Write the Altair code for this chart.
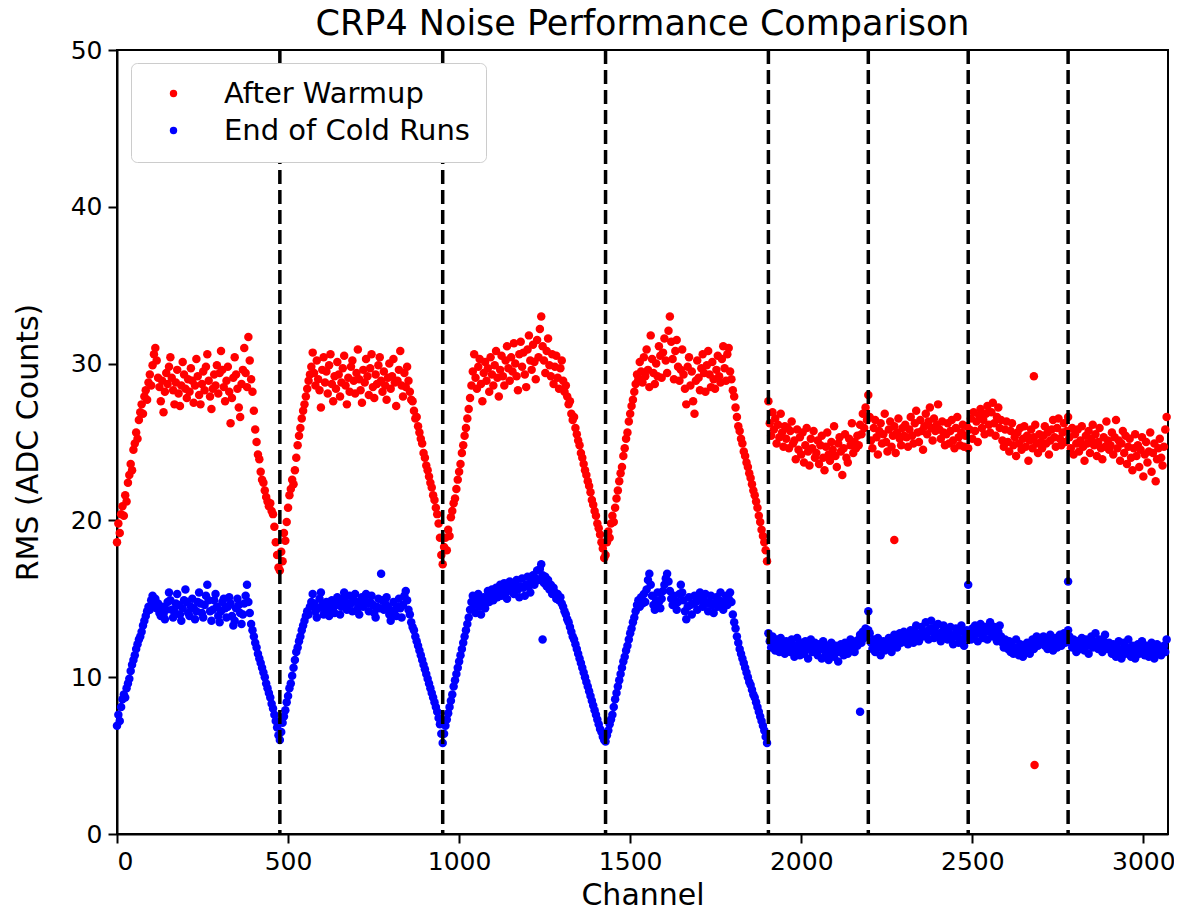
import altair as alt
import pandas as pd

# ---- channel layout -------------------------------------------------------
STEP = 4
IND_STARTS = [0, 476, 952, 1428]
COLL_START = 1904
BOUNDARIES = [476, 952, 1428, 1904, 2196, 2488, 2780]

# ---- After Warmup (red), read every 4 channels ----------------------------
warm_ind1 = [18.6, 19.8, 19.2, 20.4, 20.9, 20.3, 21.6, 21.2, 22.4, 22.9, 23.6, 23.2, 24.5, 24.9, 25.6, 25.2,
             26.4, 26.9, 27.4, 26.8, 27.9, 28.3, 27.7, 28.8, 29.3, 28.6, 29.9, 30.6, 31.0, 30.2, 29.1, 28.5,
             27.6, 28.9, 26.9, 28.2, 29.4, 28.7, 29.8, 30.4, 29.1, 28.3, 27.4, 28.8, 29.6, 28.1, 27.3, 28.6,
             30.1, 29.3, 28.4, 27.8, 29.0, 28.2, 29.7, 28.9, 27.5, 28.6, 30.3, 29.2, 28.0, 27.4, 28.7, 29.5,
             28.3, 29.8, 30.6, 28.9, 27.9, 27.1, 28.4, 29.3, 28.6, 29.9, 28.1, 29.4, 30.8, 29.6, 28.5, 27.6,
             28.9, 29.8, 28.2, 26.2, 27.8, 29.1, 30.4, 29.3, 28.4, 27.2, 26.6, 28.7, 29.6, 31.0, 29.4, 28.5,
             31.7, 30.2, 29.0, 28.2, 27.0, 25.8, 25.0, 24.2, 23.9, 23.1, 22.6, 22.4, 21.9, 21.5, 21.2, 20.9,
             21.1, 20.6, 20.4, 19.6, 18.6, 17.8, 17.0]
warm_ind2 = [16.8, 18.0, 17.4, 19.2, 18.7, 19.9, 20.8, 21.6, 22.0, 22.6, 22.3, 23.2, 24.0, 24.8, 25.4, 25.9,
             26.5, 27.0, 27.4, 27.9, 28.4, 28.9, 29.3, 29.8, 30.7, 29.4, 28.6, 30.2, 29.0, 28.3, 27.2, 29.6,
             30.4, 28.8, 29.5, 28.1, 29.9, 30.6, 28.7, 27.6, 29.2, 28.4, 30.1, 29.3, 27.9, 28.8, 29.7, 30.5,
             28.6, 27.4, 29.1, 28.2, 29.8, 30.2, 28.9, 28.1, 29.4, 30.9, 29.0, 28.3, 27.5, 29.6, 28.8, 30.3,
             29.2, 28.0, 29.7, 30.6, 28.5, 27.8, 29.3, 28.7, 29.9, 30.4, 28.9, 28.2, 29.5, 28.6, 27.7, 29.1,
             30.0, 28.4, 29.2, 30.3, 28.8, 27.3, 28.9, 29.6, 30.8, 28.6, 27.9, 29.4, 28.5, 29.8, 28.9, 28.2,
             27.7, 27.6, 27.0, 26.5, 26.6, 26.0, 25.6, 25.2, 24.9, 24.3, 24.0, 23.5, 23.2, 22.8, 22.4, 22.1,
             21.6, 21.3, 20.8, 20.4, 19.8, 18.9, 17.8]
warm_ind3 = [17.2, 18.3, 18.9, 18.1, 19.4, 19.0, 20.2, 20.6, 21.1, 21.4, 22.0, 22.6, 23.1, 23.6, 24.3, 24.8,
             25.4, 25.9, 26.5, 27.1, 27.8, 28.6, 29.5, 30.6, 29.1, 28.4, 29.8, 30.3, 28.7, 27.6, 29.4, 30.1,
             28.9, 29.7, 28.2, 30.4, 29.3, 28.6, 29.9, 30.8, 29.1, 27.9, 29.6, 30.5, 29.2, 28.6, 30.2, 31.1,
             29.7, 28.9, 30.4, 29.5, 31.3, 30.0, 29.2, 28.3, 30.6, 31.4, 29.8, 30.7, 29.3, 28.5, 30.9, 31.8,
             30.2, 29.6, 31.2, 30.1, 29.0, 31.5, 30.4, 32.2, 33.0, 31.1, 30.2, 29.4, 30.8, 31.6, 29.9, 29.2,
             30.6, 28.7, 29.8, 30.5, 29.1, 28.4, 29.7, 30.2, 28.9, 28.2, 28.6, 27.9, 27.4, 27.6, 26.8, 26.4,
             26.6, 25.9, 25.5, 25.1, 24.8, 24.3, 24.0, 23.6, 23.2, 22.9, 22.5, 22.2, 21.8, 21.3, 21.0, 20.6,
             20.3, 19.8, 19.5, 19.1, 18.6, 18.2, 17.6]
warm_ind4 = [17.8, 18.6, 19.3, 18.9, 19.8, 20.3, 19.9, 20.8, 21.4, 21.9, 22.5, 23.0, 23.4, 24.1, 24.6, 25.2,
             25.6, 26.3, 26.8, 27.3, 27.7, 28.2, 28.7, 29.3, 29.0, 30.1, 29.5, 28.8, 30.4, 29.2, 30.9, 29.6,
             28.5, 31.8, 30.3, 29.4, 28.7, 30.0, 29.2, 31.1, 30.5, 29.1, 30.7, 31.6, 30.2, 29.4, 32.1, 33.0,
             31.4, 30.3, 29.0, 30.8, 31.5, 29.8, 28.9, 29.6, 30.9, 29.3, 28.4, 27.4, 29.8, 30.4, 28.6, 29.5,
             27.6, 26.8, 28.9, 30.2, 29.1, 28.3, 29.7, 30.6, 29.4, 28.2, 29.9, 30.8, 29.3, 28.5, 30.1, 29.0,
             28.4, 29.6, 30.5, 29.2, 28.8, 30.3, 31.1, 29.7, 28.9, 30.6, 31.0, 29.5, 29.0, 28.3, 27.9, 27.2,
             26.6, 26.0, 25.7, 25.2, 24.9, 24.4, 24.1, 23.7, 23.4, 23.0, 22.7, 22.3, 21.9, 21.6, 21.2, 20.8,
             20.3, 19.9, 19.4, 19.0, 18.6, 18.1, 17.4]
warm_coll = [27.6, 26.2, 25.4, 26.9, 25.8, 26.5, 24.9, 26.1, 25.3, 26.8, 25.6, 24.7, 26.0, 25.2, 25.9,
             24.6, 25.7, 26.3, 24.9, 25.1, 23.9, 25.8, 24.5, 25.3, 24.2, 25.6, 23.7, 24.8, 25.9, 24.4, 23.5,
             25.2, 24.6, 25.7, 24.0,
             24.3, 25.1, 23.6, 24.8, 25.4, 24.0, 23.2, 24.7, 25.6, 24.2, 23.8, 25.0, 24.5, 26.0, 24.1, 23.4,
             24.9, 25.3, 24.4, 22.9, 24.6, 25.5, 24.0, 23.7, 25.2, 24.8, 26.2, 24.3, 25.0, 24.6,
             25.4, 24.8, 26.1, 25.5, 26.8, 25.9, 27.2, 26.4, 28.0,
             26.6, 25.1, 24.6, 25.9, 26.4, 25.3, 24.2, 25.7, 26.2, 24.9, 25.5, 26.8, 25.0, 24.4, 25.8, 26.3,
             24.7, 25.4, 26.0, 24.3, 25.6, 26.5, 25.2, 24.8, 25.9, 25.4,
             26.1, 25.3, 24.7, 25.8, 26.6, 25.4, 24.9, 26.2, 27.0, 25.6, 25.0, 26.4, 25.7, 24.5, 26.0, 26.8,
             25.5, 26.3, 27.2, 25.9, 25.1, 26.5, 25.7, 26.1, 27.4, 25.8, 25.2, 26.3, 25.6, 24.8,
             25.5, 26.2, 24.9, 25.7, 26.4, 25.1, 24.6, 25.9, 26.6, 25.3, 24.8, 25.6, 26.1, 24.7, 25.4, 26.0,
             24.6,
             25.8, 26.5, 25.2, 26.9, 25.7, 26.3, 25.0, 26.7, 27.1, 25.9, 26.4, 25.5, 26.8, 27.3, 26.1, 25.6,
             26.9, 27.5, 26.2, 25.4, 26.6, 27.2, 25.9, 26.4, 25.1, 24.7, 25.8, 26.3,
             25.0, 24.4, 25.7, 26.2, 24.8, 25.3, 24.1, 25.6, 24.9, 25.9, 24.5, 25.2, 26.0, 24.7, 25.4, 23.8,
             25.1, 25.8, 24.6, 25.3, 26.1, 24.9, 24.3, 25.5, 25.0,
             24.6, 25.4, 26.0, 24.9, 25.6, 24.2, 25.1, 25.8, 26.4, 25.3, 24.7, 25.9, 26.5, 25.2, 24.8, 25.6,
             26.2, 25.0, 25.7, 26.6,
             25.3, 24.6, 25.9, 24.2, 25.5, 24.9, 25.8, 24.4, 25.1, 26.0, 24.7, 23.8, 25.4, 24.9, 25.7, 24.3,
             25.2, 26.1, 24.8, 25.5, 24.1, 25.0, 25.9, 24.6, 23.9, 25.3, 24.7, 26.3, 25.1, 24.5,
             24.8, 25.6, 24.2, 25.3, 26.4, 24.6, 25.1, 23.8, 24.9, 25.7, 24.3, 25.4, 23.6, 24.7, 25.2, 24.0,
             23.2, 24.6, 25.5, 24.1, 24.8, 23.4, 24.5, 25.3, 22.8, 24.2, 25.0, 23.7, 24.4, 25.6, 23.1, 24.3,
             24.9, 22.5, 23.9, 24.6, 25.2, 24.0, 23.5, 24.7, 25.8, 26.6]
warm_extra_ch = [2272, 2680, 2682]
warm_extra_val = [18.75, 29.2, 4.4]

# ---- End of Cold Runs (blue), read every 4 channels -----------------------
cold_ind1 = [6.9, 7.6, 7.2, 8.1, 8.6, 8.9, 8.7, 9.3, 9.6, 9.9, 10.4, 10.8, 11.1, 11.4, 11.8, 12.1,
             12.4, 12.6, 12.9, 13.3, 13.6, 13.9, 14.2, 14.5, 14.3, 14.9, 15.2, 14.6, 15.0, 14.4, 14.7, 14.1,
             13.9, 14.5, 14.0, 13.7, 14.3, 14.8, 15.4, 14.9, 14.3, 13.8, 14.2, 14.7, 15.3, 14.6, 14.0, 13.6,
             14.4, 14.9, 15.6, 14.8, 14.1, 13.9, 14.5, 15.0, 14.4, 13.7, 14.2, 14.8, 15.4, 14.7, 14.1, 13.8,
             14.6, 15.2, 15.9, 14.9, 14.2, 13.6, 14.3, 14.9, 15.3, 14.5, 13.9, 13.5, 14.2, 14.8, 15.0, 14.4,
             13.8, 14.5, 15.1, 14.7, 13.9, 13.3, 13.6, 14.4, 15.0, 14.6, 14.1, 13.4, 14.0, 14.7, 15.2, 15.9,
             14.8, 14.1, 13.4, 13.0, 12.6, 12.2, 11.9, 11.5, 11.2, 10.9, 10.6, 10.3, 10.0, 9.6, 9.3, 9.0,
             8.7, 8.3, 8.0, 7.6, 7.2, 6.8, 6.3]
cold_ind2 = [6.0, 6.5, 7.1, 7.5, 7.9, 8.4, 8.8, 9.3, 9.6, 10.1, 10.6, 11.1, 11.6, 11.9, 12.3, 12.6,
             13.0, 13.3, 13.6, 13.9, 14.2, 14.0, 14.5, 14.8, 15.3, 14.7, 14.2, 13.8, 14.4, 15.0, 15.4, 14.6,
             14.0, 14.3, 14.8, 14.2, 13.9, 14.5, 14.9, 14.4, 14.1, 14.7, 15.1, 14.6, 14.0, 14.5, 15.0, 15.4,
             14.8, 14.3, 14.6, 15.2, 14.7, 14.2, 14.9, 15.3, 14.8, 14.4, 14.0, 14.6, 15.1, 14.5, 14.9, 15.3,
             14.7, 14.2, 14.8, 15.2, 14.6, 14.1, 13.8, 14.5, 15.0, 14.4, 16.6, 14.9, 14.3, 14.7, 15.1, 14.5,
             14.0, 13.6, 14.2, 14.8, 14.3, 13.9, 14.5, 15.0, 14.4, 13.8, 14.6, 15.2, 15.5, 14.9, 14.3, 14.0,
             13.5, 13.2, 13.0, 12.6, 12.3, 12.0, 11.7, 11.4, 11.1, 10.8, 10.5, 10.2, 9.9, 9.6, 9.3, 9.0,
             8.7, 8.4, 8.1, 7.8, 7.4, 7.0, 6.4]
cold_ind3 = [5.8, 6.4, 6.9, 7.3, 7.7, 8.1, 8.5, 8.9, 9.4, 9.8, 10.2, 10.6, 11.0, 11.4, 11.8, 12.2,
             12.6, 13.0, 13.4, 13.8, 14.3, 14.8, 15.2, 14.6, 14.1, 14.9, 15.3, 14.5, 14.0, 14.7, 15.1, 14.4,
             15.0, 15.5, 14.8, 15.2, 15.6, 14.9, 15.3, 15.7, 15.1, 15.5, 15.9, 15.2, 15.6, 16.0, 15.4, 15.0,
             15.7, 16.1, 15.5, 15.9, 15.3, 15.8, 16.2, 15.6, 15.1, 15.8, 16.3, 15.7, 15.2, 15.9, 16.4, 15.8,
             15.4, 16.1, 16.5, 15.9, 16.3, 16.8, 16.2, 16.9, 17.2, 16.5, 16.0, 16.4, 15.8, 16.2, 15.6, 15.9,
             15.3, 15.7, 15.4, 15.0, 15.3, 14.9, 15.1, 14.7, 14.5, 14.2, 14.0, 13.7, 13.5, 13.2, 12.9, 12.6,
             12.4, 12.1, 11.8, 11.5, 11.2, 10.9, 10.6, 10.3, 10.0, 9.7, 9.4, 9.1, 8.8, 8.5, 8.2, 7.9,
             7.6, 7.3, 7.0, 6.7, 6.5, 6.2, 6.0]
cold_ind4 = [5.9, 6.3, 6.6, 7.0, 7.3, 7.6, 8.1, 8.6, 9.0, 9.4, 9.8, 10.2, 10.6, 11.0, 11.3, 11.7,
             12.0, 12.4, 12.8, 13.1, 13.5, 13.8, 14.2, 14.6, 14.9, 14.5, 15.1, 14.7, 15.3, 14.8, 15.6, 16.2,
             16.6, 15.9, 15.2, 14.6, 14.3, 14.9, 15.4, 14.8, 14.4, 15.0, 15.5, 15.9, 16.3, 16.6, 16.1, 15.5,
             15.0, 14.6, 15.2, 14.7, 14.3, 14.8, 15.3, 15.9, 15.4, 14.9, 14.2, 13.7, 14.5, 15.1, 14.6, 14.0,
             14.7, 15.2, 14.8, 14.3, 14.9, 15.4, 15.0, 14.5, 14.9, 15.3, 14.7, 14.2, 14.8, 15.2, 14.6, 14.1,
             14.7, 15.1, 14.5, 14.9, 15.4, 14.8, 14.3, 14.7, 15.2, 14.6, 15.0, 15.4, 14.8, 14.0, 13.5, 13.1,
             12.6, 12.2, 11.8, 11.5, 11.2, 10.9, 10.6, 10.3, 10.0, 9.7, 9.5, 9.2, 8.9, 8.7, 8.4, 8.1,
             7.8, 7.5, 7.2, 6.9, 6.6, 6.2, 5.8]
cold_coll = [12.8, 12.3, 11.9, 12.6, 12.1, 11.7, 12.4, 12.0, 11.6, 12.5, 11.8, 12.2, 11.5, 12.3, 11.9,
             12.1, 11.6, 12.4, 11.8, 11.3, 12.0, 12.5, 11.7, 11.4, 12.2, 11.9, 11.5, 12.3, 11.8, 11.2, 12.0,
             12.4, 11.6, 11.9, 12.2,
             11.7, 11.4, 12.1, 11.8, 11.2, 12.3, 11.9, 11.5, 12.0, 11.1, 11.6, 12.2, 11.8, 11.3, 12.0, 11.7,
             11.0, 11.6, 12.1, 11.8, 11.4, 12.2, 11.9, 11.5, 12.0, 12.4, 11.7, 12.1, 11.6, 12.3,
             12.0, 12.4, 12.7, 12.2, 12.9, 12.5, 13.1, 12.7, 13.0,
             12.8, 12.2, 11.8, 12.4, 11.6, 12.1, 12.5, 11.9, 11.4, 12.0, 12.3, 11.7, 12.2, 11.8, 12.5, 12.0,
             11.6, 12.3, 12.7, 12.1, 11.9, 12.4, 12.8, 12.2, 12.6, 12.9,
             12.4, 12.8, 12.1, 12.6, 13.0, 12.5, 12.2, 12.9, 13.3, 12.7, 12.3, 12.8, 13.2, 12.6, 12.9, 13.5,
             12.8, 12.4, 13.1, 13.6, 12.9, 12.5, 13.2, 12.8, 13.4, 12.7, 12.3, 12.9, 13.3, 12.6,
             12.9, 12.4, 12.8, 13.2, 12.5, 12.1, 12.7, 13.1, 12.6, 12.2, 12.9, 13.3, 12.4, 12.0, 12.7, 13.0,
             12.5,
             12.9, 12.4, 13.1, 12.6, 13.3, 12.8, 12.3, 13.0, 13.4, 12.7, 12.5, 13.2, 12.9, 12.4, 13.1, 13.5,
             12.8, 12.6, 13.2, 12.7, 12.3, 12.9, 13.3, 12.6, 12.2, 11.9, 12.4, 12.1,
             11.8, 12.3, 11.6, 12.0, 11.5, 11.9, 12.4, 11.7, 11.4, 12.1, 11.8, 11.3, 12.0, 11.6, 12.2, 11.9,
             11.5, 12.1, 12.4, 11.8, 12.2, 12.6, 12.0, 12.3, 12.5,
             12.2, 12.6, 12.0, 12.4, 11.8, 12.3, 12.7, 12.1, 11.7, 12.2, 12.5, 11.9, 12.3, 12.7, 12.0, 12.4,
             12.8, 12.2, 12.6, 13.0,
             12.6, 12.2, 11.9, 12.4, 12.0, 11.6, 12.3, 12.1, 11.8, 12.5, 12.2, 11.7, 12.4, 12.0, 11.5, 12.2,
             12.6, 11.9, 12.3, 12.8, 12.1, 11.8, 12.4, 12.0, 11.6, 12.3, 12.7, 12.1, 11.8, 12.2,
             11.9, 11.5, 12.1, 11.7, 11.3, 11.9, 12.3, 11.6, 11.2, 11.8, 12.2, 11.5, 11.9, 12.4, 11.7, 11.3,
             12.0, 11.6, 11.2, 11.8, 12.1, 11.5, 11.9, 12.3, 11.6, 11.4, 12.0, 11.7, 11.3, 11.9, 12.2, 11.6,
             11.2, 11.8, 12.1, 11.5, 11.9, 11.4, 11.7, 12.0, 11.6, 12.4]
cold_extra_ch = [1244, 2172, 2196, 2488, 2780]
cold_extra_val = [12.4, 7.8, 14.2, 15.9, 16.1]

SERIES = ["After Warmup", "End of Cold Runs"]
COLORS = ["#ff0000", "#0000ff"]


def build(name, segs, coll, extra_ch, extra_val):
    rows = []
    for start, vals in zip(IND_STARTS, segs):
        for i, v in enumerate(vals):
            rows.append({"channel": start + i * STEP, "rms": v, "series": name})
    for i, v in enumerate(coll):
        rows.append({"channel": COLL_START + i * STEP, "rms": v, "series": name})
    for c, v in zip(extra_ch, extra_val):
        rows.append({"channel": c, "rms": v, "series": name})
    return rows


rows = build(SERIES[0], [warm_ind1, warm_ind2, warm_ind3, warm_ind4], warm_coll,
             warm_extra_ch, warm_extra_val)
rows += build(SERIES[1], [cold_ind1, cold_ind2, cold_ind3, cold_ind4], cold_coll,
              cold_extra_ch, cold_extra_val)
df = pd.DataFrame(rows)
df["order"] = range(len(df))
bounds = pd.DataFrame({"b": BOUNDARIES})

FONT = "DejaVu Sans"

points = alt.Chart(df).mark_circle(size=72, opacity=1).encode(
    x=alt.X("channel:Q", title="Channel",
            scale=alt.Scale(domain=[0, 3072], nice=False, zero=False),
            axis=alt.Axis(values=[0, 500, 1000, 1500, 2000, 2500, 3000], format="d")),
    y=alt.Y("rms:Q", title="RMS (ADC Counts)",
            scale=alt.Scale(domain=[0, 50], nice=False),
            axis=alt.Axis(values=[0, 10, 20, 30, 40, 50])),
    color=alt.Color("series:N",
                    scale=alt.Scale(domain=SERIES, range=COLORS),
                    legend=alt.Legend(title=None, orient="none", legendX=14, legendY=13,
                                      symbolType="circle", symbolSize=55,
                                      labelFontSize=29, labelFont=FONT, labelColor="black",
                                      padding=16, rowPadding=7,
                                      symbolOffset=12, labelOffset=36,
                                      strokeColor="#cccccc", fillColor="white",
                                      cornerRadius=6, labelLimit=400)),
    order=alt.Order("order:Q"),
)

rules = alt.Chart(bounds).mark_rule(color="black", strokeWidth=3.5, strokeDash=[14, 6]).encode(
    x="b:Q"
)

chart = alt.layer(points, rules).properties(
    width=1051, height=784,
    title=alt.TitleParams("CRP4 Noise Performance Comparison", fontSize=35, font=FONT,
                          fontWeight="normal", color="black", offset=2, dy=6),
    autosize=alt.AutoSizeParams(type="none"),
    padding={"left": 109, "top": 42, "right": 6, "bottom": 75},
).configure_view(
    stroke="black", strokeWidth=2
).configure_axis(
    grid=False, domainColor="black", domainWidth=2, tickColor="black", tickWidth=2,
    tickSize=9, labelFontSize=25, labelFont=FONT, labelColor="black", labelPadding=6,
    titleFontSize=30, titleFont=FONT, titleFontWeight="normal", titleColor="black",
).configure_axisY(titlePadding=27).configure_axisX(titlePadding=6)

chart.save("out.html", embed_options={"renderer": "svg", "actions": False})
